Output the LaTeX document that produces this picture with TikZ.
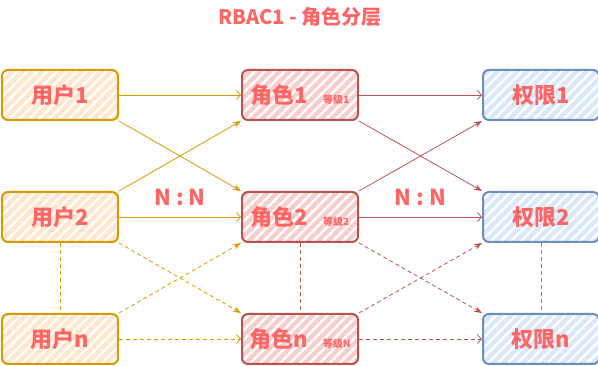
\documentclass[tikz,border=0pt]{standalone}
\usepackage{fontspec}
\setmainfont{Noto Sans CJK SC}
\usepackage{xcolor}
\usetikzlibrary{positioning,arrows.meta,patterns.meta}
\definecolor{usr}{HTML}{D79B00}
\definecolor{usrf}{HTML}{FFE6CC}
\definecolor{rol}{HTML}{B85450}
\definecolor{rolf}{HTML}{F8CECC}
\definecolor{prm}{HTML}{6C8EBF}
\definecolor{prmf}{HTML}{DAE8FC}
\definecolor{txt}{HTML}{FF6666}
\newcommand{\grade}[1]{{\fontsize{10}{12}\selectfont #1}}

\begin{document}
\begin{tikzpicture}[x=1pt,y=1pt,font=\bfseries\fontsize{22}{26}\selectfont,text=txt,
  node distance=70pt and 122pt,
  box/.style={line width=2pt,rounded corners=6pt,minimum width=116pt,minimum height=50pt,inner sep=0pt,
    preaction={pattern={Lines[angle=45,distance=7pt,line width=2.4pt]},pattern color=white}},
  usrs/.style={preaction={fill=usrf},box,draw=usr},
  rols/.style={preaction={fill=rolf},box,draw=rol},
  prms/.style={preaction={fill=prmf},box,draw=prm},
  harr/.style={-{Straight Barb[length=4pt,width=9pt]},line width=0.8pt},
  darr/.style={-{Stealth[length=8pt,width=6pt]},line width=0.8pt},
  dsh/.style={dash pattern=on 4pt off 3pt}]
  \useasboundingbox (0,0) rectangle (598,-366);
  \node[font=\bfseries\fontsize{20}{24}\selectfont] (ttl) at (300,-17) {RBAC1 - 角色分层};
  % users
  \node[usrs] (u1) at (60,-95) {用户1};
  \node[usrs,below=of u1] (u2) {用户2};
  \node[usrs,below=of u2] (un) {用户n};
  % roles
  \node[rols,right=of u1] (r1) {角色1\hspace{15pt}\grade{等级1}\hspace{19pt}};
  \node[rols,right=of u2] (r2) {角色2\hspace{15pt}\grade{等级2}\hspace{19pt}};
  \node[rols,right=of un] (rn) {角色n\hspace{15pt}\grade{等级N}\hspace{19pt}};
  % permissions
  \node[prms,right=123pt of r1] (p1) {权限1};
  \node[prms,right=123pt of r2] (p2) {权限2};
  \node[prms,right=123pt of rn] (pn) {权限n};
  % user -> role
  \draw[harr,draw=usr] (u1) -- (r1);
  \draw[darr,draw=usr] (u1.south east) -- (r2.north west);
  \draw[darr,draw=usr] (u2.north east) -- (r1.south west);
  \draw[harr,draw=usr] (u2) -- node[above=7pt]{N : N} (r2);
  \draw[darr,dsh,draw=usr] (u2.south east) -- (rn.north west);
  \draw[darr,dsh,draw=usr] (un.north east) -- (r2.south west);
  \draw[harr,dsh,draw=usr] (un) -- (rn);
  % role -> permission
  \draw[harr,draw=rol] (r1) -- (p1);
  \draw[darr,draw=rol] (r1.south east) -- (p2.north west);
  \draw[darr,draw=rol] (r2.north east) -- (p1.south west);
  \draw[harr,draw=rol] (r2) -- node[above=7pt]{N : N} (p2);
  \draw[darr,dsh,draw=rol] (r2.south east) -- (pn.north west);
  \draw[darr,dsh,draw=rol] (rn.north east) -- (p2.south west);
  \draw[harr,dsh,draw=rol] (rn) -- (pn);
  % levels
  \draw[dsh,draw=usr,line width=0.6pt] (u2) -- (un);
  \draw[dsh,draw=rol,line width=0.6pt] (r2) -- (rn);
  \draw[dsh,draw=prm,line width=0.6pt] (p2) -- (pn);
\end{tikzpicture}
\end{document}
